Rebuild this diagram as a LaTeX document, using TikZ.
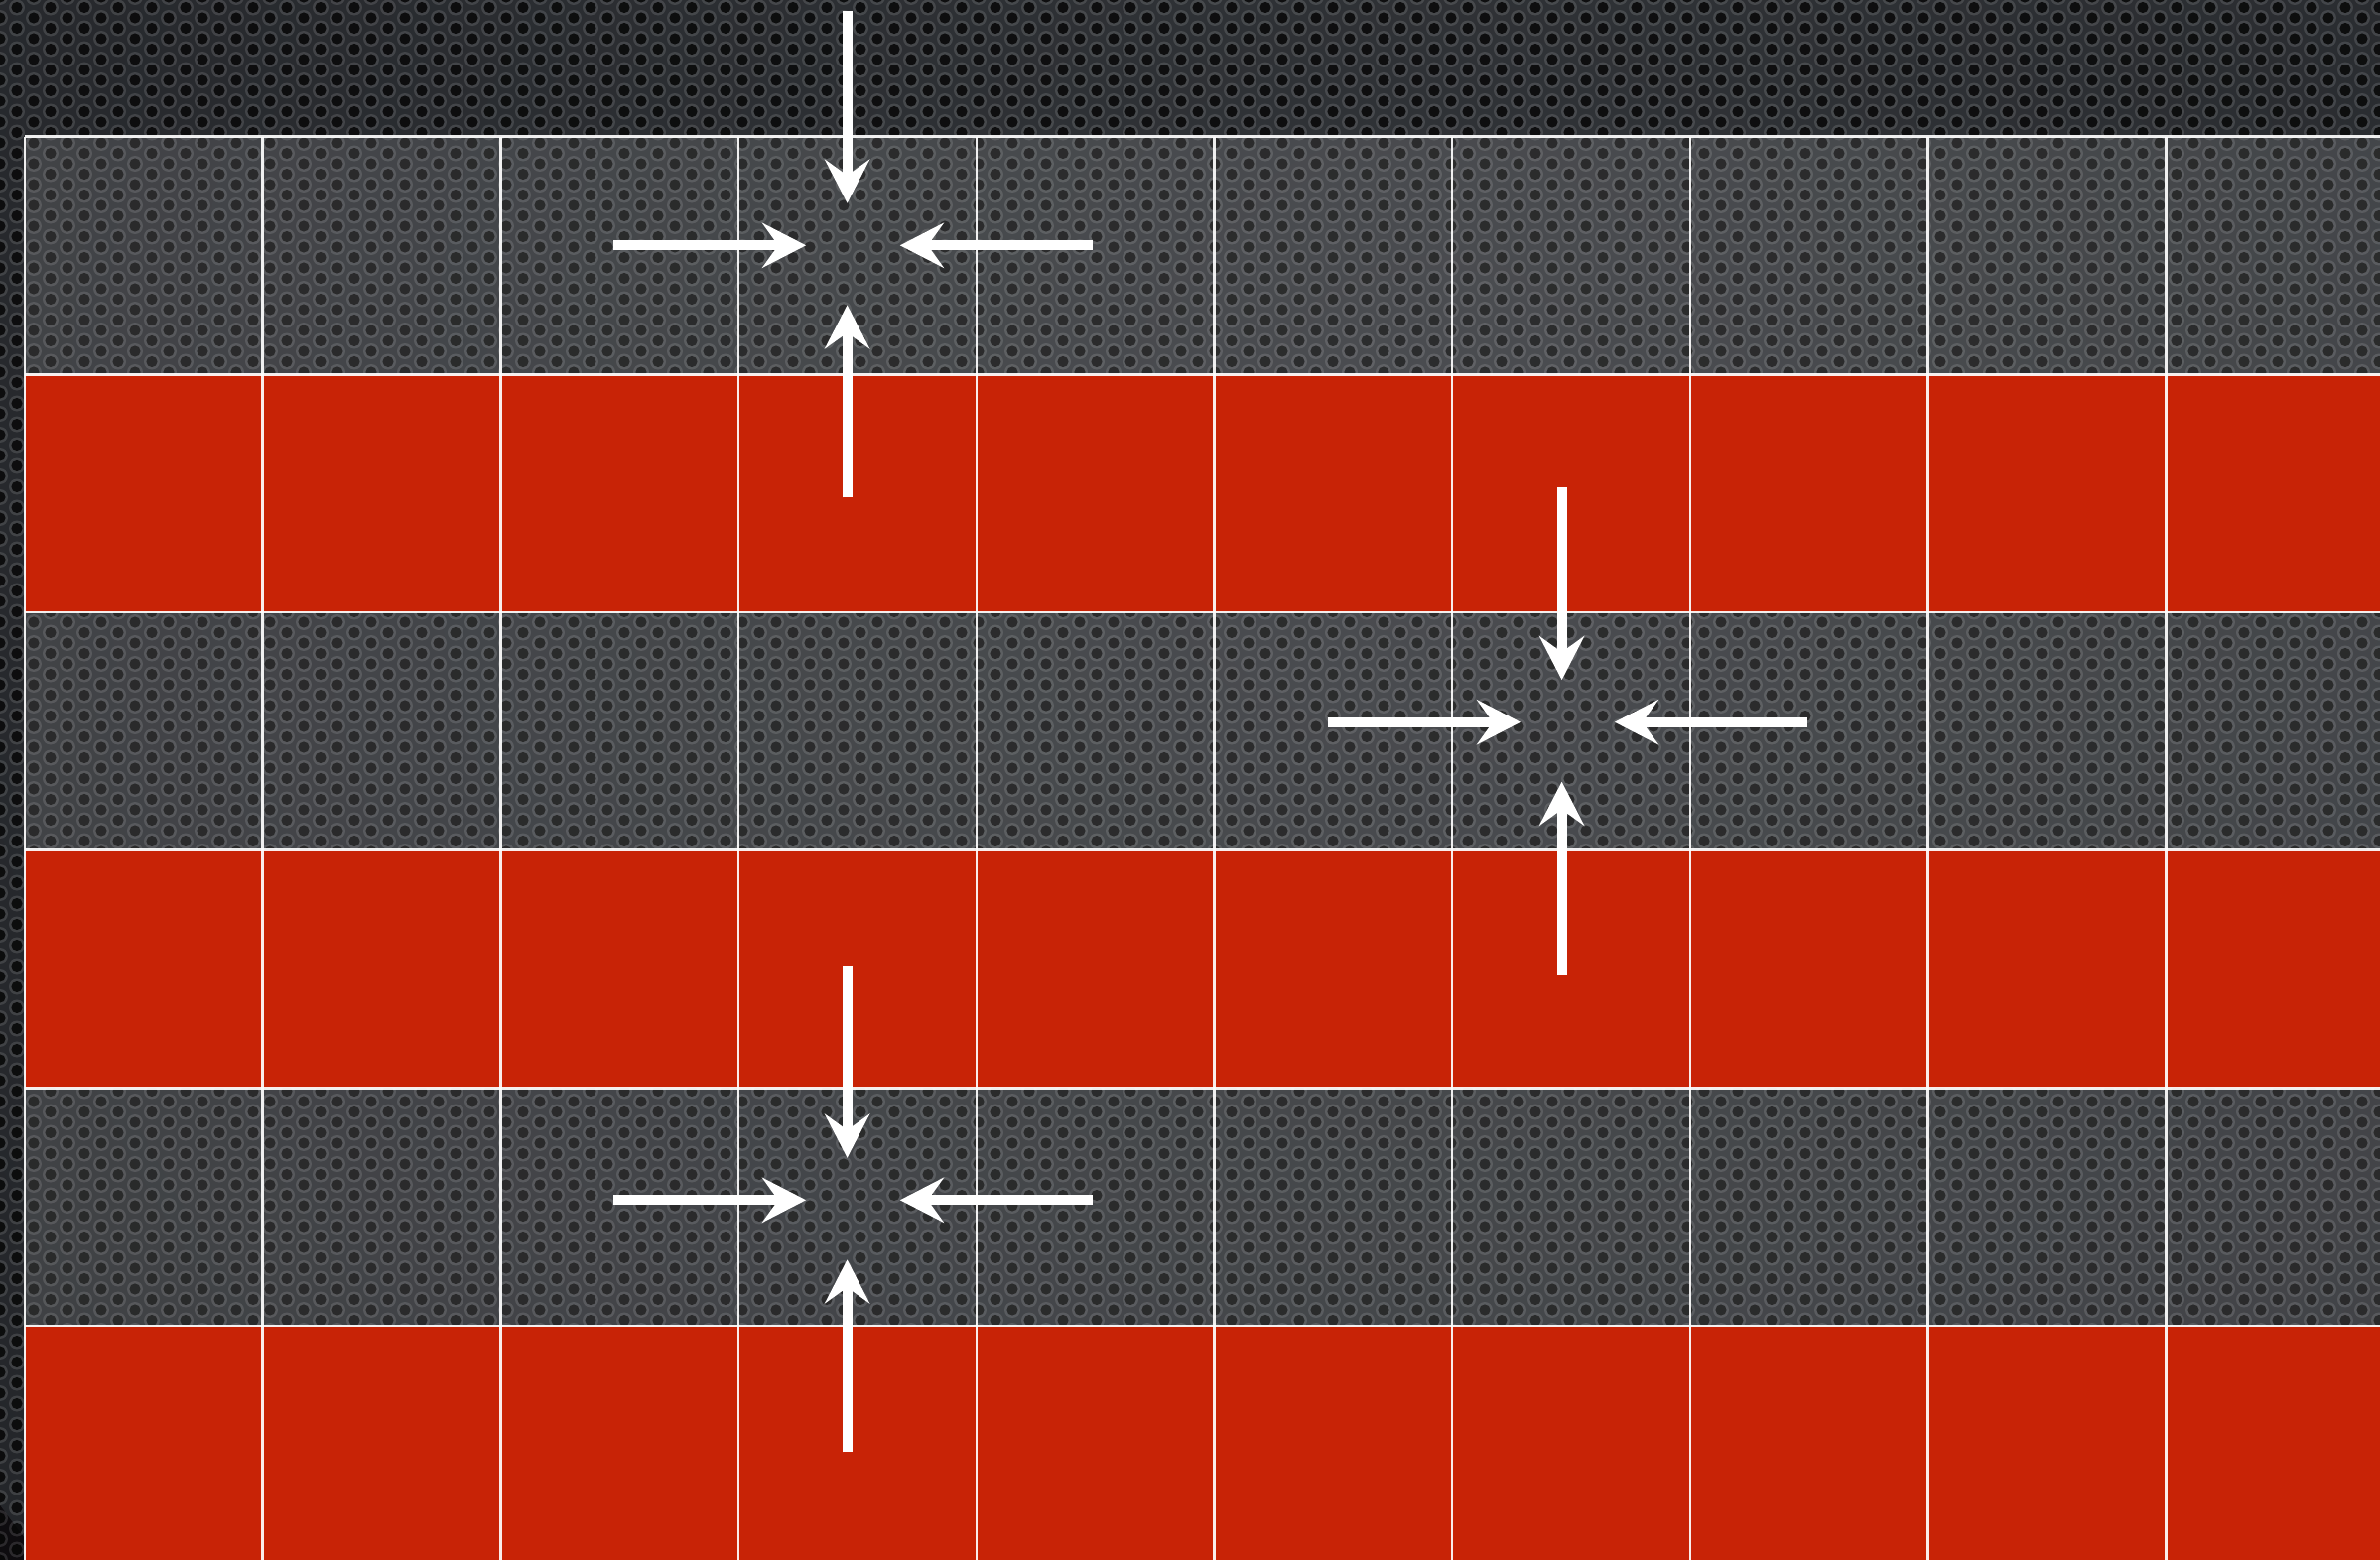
\documentclass[tikz,border=0pt]{standalone}
\usepackage{xcolor}
\usepackage{tikz}
\usetikzlibrary{arrows.meta,calc,patterns}

\definecolor{tilered}{RGB}{200,35,6}
\definecolor{bglite}{RGB}{50,53,57}
\definecolor{bgmid}{RGB}{36,38,42}
\definecolor{bgdark}{RGB}{14,12,15}

% perforated metal backdrop
\pgfdeclareradialshading{vignette}{\pgfpointorigin}{color(0bp)=(bglite); color(25bp)=(bgmid); color(50bp)=(bgdark)}
\pgfdeclarepatternformonly{rings}{\pgfpointorigin}{\pgfpoint{3.4mm}{2.1mm}}{\pgfpoint{3.4mm}{2.1mm}}{%
  \pgfpathcircle{\pgfpoint{0mm}{0mm}}{0.8mm}
  \pgfpathcircle{\pgfpoint{3.4mm}{0mm}}{0.8mm}
  \pgfpathcircle{\pgfpoint{0mm}{2.1mm}}{0.8mm}
  \pgfpathcircle{\pgfpoint{3.4mm}{2.1mm}}{0.8mm}
  \pgfpathcircle{\pgfpoint{1.7mm}{1.05mm}}{0.8mm}
  \pgfusepath{fill}}
\pgfdeclarepatternformonly{holes}{\pgfpointorigin}{\pgfpoint{3.4mm}{2.1mm}}{\pgfpoint{3.4mm}{2.1mm}}{%
  \pgfpathcircle{\pgfpoint{0mm}{0mm}}{0.56mm}
  \pgfpathcircle{\pgfpoint{3.4mm}{0mm}}{0.56mm}
  \pgfpathcircle{\pgfpoint{0mm}{2.1mm}}{0.56mm}
  \pgfpathcircle{\pgfpoint{3.4mm}{2.1mm}}{0.56mm}
  \pgfpathcircle{\pgfpoint{1.7mm}{1.05mm}}{0.56mm}
  \pgfusepath{fill}}

\begin{document}
\begin{tikzpicture}[
    x=0.1mm, y=-0.1mm,
    darkrow/.style={fill=white, fill opacity=0.12},
    redrow/.style={fill=tilered},
    gridline/.style={draw=white, opacity=0.92, line width=0.25mm},
    push/.style={draw=white, line width=1mm,
                 -{Stealth[length=4.4mm, width=4.5mm, inset=1.6mm]}}
]

\useasboundingbox (0,0) rectangle (2398,1572);
\clip (0,0) rectangle (2398,1572);

\def\gx{25}
\def\gy{137.6}
\def\gw{239.7}

% backdrop
\fill[bgdark] (0,0) rectangle (2398,1572);
\shade[shading=vignette] (1450,450) circle (1800);
\fill[pattern=rings, pattern color=white, fill opacity=0.12] (0,0) rectangle (2398,1572);
\fill[pattern=holes, pattern color=black, fill opacity=0.8] (0,0) rectangle (2398,1572);

% bands: dark, red, dark, red, dark, red
\foreach \r in {0,2,4}
  \fill[darkrow] (\gx,{\gy+\r*\gw}) rectangle (2430,{\gy+(\r+1)*\gw});
\foreach \r in {1,3,5}
  \fill[redrow] (\gx,{\gy+\r*\gw}) rectangle (2430,{\gy+(\r+1)*\gw});

% grid
\foreach \c in {0,...,10}
  \draw[gridline] ({\gx+\c*\gw},\gy) -- ({\gx+\c*\gw},1590);
\foreach \r in {0,...,6}
  \draw[gridline] (\gx,{\gy+\r*\gw}) -- (2430,{\gy+\r*\gw});

% arrows pointing into three cells
\foreach \n/\cx/\cy in {ca/853.6/247.3, cb/1573.6/727.7, cc/853.6/1209.3}{
  \coordinate (\n) at (\cx,\cy);
  \draw[push] ($(\n)+(0,-236.5)$) -- ($(\n)+(0,-42.5)$);
  \draw[push] ($(\n)+(0,254)$) -- ($(\n)+(0,60)$);
  \draw[push] ($(\n)+(-235.4,0)$) -- ($(\n)+(-41.5,0)$);
  \draw[push] ($(\n)+(247.1,0)$) -- ($(\n)+(53.2,0)$);
}

\end{tikzpicture}
\end{document}
